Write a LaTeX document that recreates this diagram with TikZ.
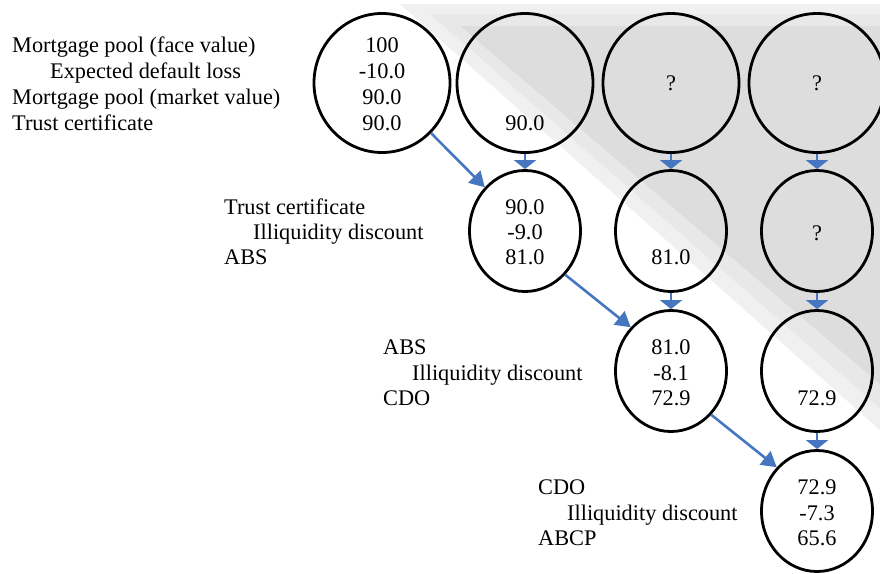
\documentclass[tikz,border=0pt]{standalone}
\usepackage{fontspec}
\setmainfont{Liberation Serif}
\usetikzlibrary{arrows.meta,shapes.geometric}
\definecolor{flowblue}{RGB}{70,118,192}
\definecolor{shadelight}{RGB}{240,240,240}
\definecolor{shademid}{RGB}{232,232,232}
\definecolor{shadedark}{RGB}{221,221,221}
\begin{document}
\begin{tikzpicture}[x=1pt,y=-1pt,
    bigstage/.style={ellipse,draw,line width=2.8pt,minimum width=136pt,minimum height=139pt,inner sep=0pt},
    smallstage/.style={ellipse,draw,line width=2.8pt,minimum width=111pt,minimum height=121pt,inner sep=0pt},
    num/.style={font=\fontsize{22.3}{25.5}\selectfont,inner sep=0pt,anchor=base},
    lbl/.style={num,anchor=base west},
    downarr/.style={-{Triangle[width=22pt,length=9pt]},flowblue,line width=2.6pt},
    diagarr/.style={-{Triangle[width=17pt,length=15pt]},flowblue,line width=2.6pt}]
\useasboundingbox (0,0) rectangle (880,573);
% grey shadow behind the later stages, soft edge in three steps
\fill[shadelight] (400,4) -- (880,4) -- (880,430) -- cycle;
\fill[shademid] (430,14) -- (880,14) -- (880,408) -- cycle;
\fill[shadedark] (460,26) -- (880,26) -- (880,384) -- cycle;

% stages
\foreach \name/\x/\y in {r1c1/382/83, r1c2/525/83, r1c3/671/83, r1c4/817/83}
{
    \node[bigstage] (\name) at (\x,\y) {};
}
\foreach \name/\x/\y in {r2c2/525/231, r2c3/671/231, r2c4/817/231, r3c3/671/371, r3c4/817/371, r4c4/817/511}
{
    \node[smallstage] (\name) at (\x,\y) {};
}

% values inside the stages
\foreach \x/\y/\val [count=\i] in {382/52/100, 382/78/-10.0, 382/104/90.0, 382/130/90.0, 525/130/90.0,
    671/90/?, 817/90/?,
    525/214/90.0, 525/239/-9.0, 525/264/81.0, 671/264/81.0, 817/240/?,
    671/354/81.0, 671/380/-8.1, 671/405/72.9, 817/405/72.9,
    817/494/72.9, 817/520/-7.3, 817/545/65.6}
{
    \node[num] (v\i) at (\x,\y) {\val};
}

% row labels
\foreach \x/\y/\ltext [count=\i] in {12/52/{Mortgage pool (face value)}, 50/78/{Expected default loss},
    12/104/{Mortgage pool (market value)}, 12/130/{Trust certificate},
    224/214/{Trust certificate}, 253/239/{Illiquidity discount}, 224/264/{ABS},
    383/354/{ABS}, 412/380/{Illiquidity discount}, 383/405/{CDO},
    538/494/{CDO}, 567/520/{Illiquidity discount}, 538/545/{ABCP}}
{
    \node[lbl] (l\i) at (\x,\y) {\ltext};
}

% flows
\foreach \a/\b in {r1c2/r2c2, r1c3/r2c3, r2c3/r3c3, r1c4/r2c4, r2c4/r3c4, r3c4/r4c4}
{
    \draw[downarr] (\a.south) -- (\b.north);
}
\foreach \a/\b in {r1c1/r2c2, r2c2/r3c3, r3c3/r4c4}
{
    \draw[diagarr] (\a.south east) -- (\b.north west);
}
\end{tikzpicture}
\end{document}
